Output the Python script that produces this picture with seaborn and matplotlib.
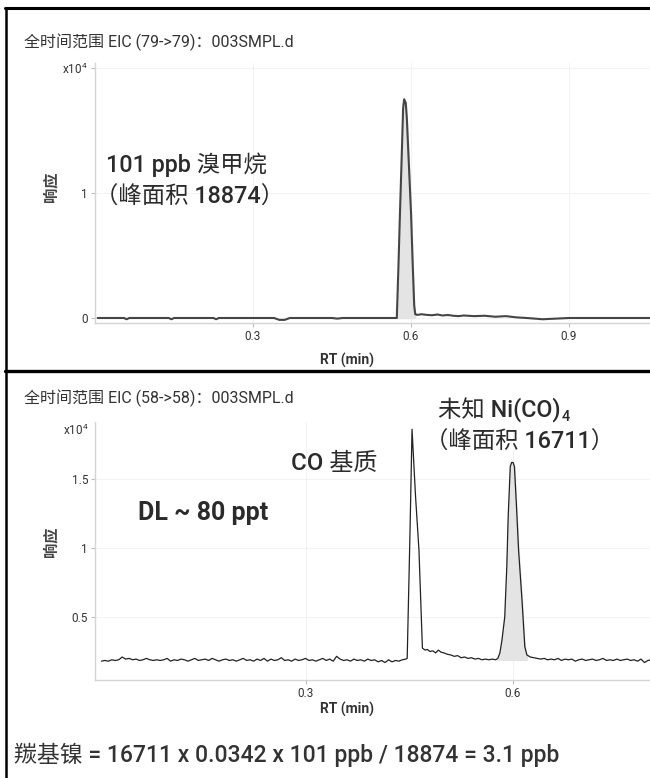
import matplotlib
matplotlib.use('Agg')
import matplotlib.pyplot as plt
from matplotlib.lines import Line2D
import seaborn as sns
import numpy as np
import pandas as pd

# Top trace: EIC 79->79 (bromomethane standard), response in x10^4
rt_top = [0.005, 0.055, 0.06, 0.065, 0.14, 0.145, 0.15, 0.225, 0.23, 0.235,
          0.34, 0.35, 0.36, 0.37, 0.45, 0.46, 0.47, 0.568, 0.573, 0.576,
          0.579, 0.582, 0.585, 0.587, 0.590, 0.592, 0.596, 0.600, 0.603, 0.606,
          0.608, 0.612, 0.62, 0.63, 0.64, 0.65, 0.66, 0.67, 0.68, 0.69,
          0.70, 0.72, 0.74, 0.76, 0.78, 0.80, 0.82, 0.85, 0.90, 0.95, 1.00, 1.055]
resp_top = [0, 0, -0.01, 0, 0, -0.01, 0, 0, -0.01, 0,
            0, -0.015, -0.015, 0, 0, -0.005, 0, 0, 0.0, 0.4,
            0.84, 1.25, 1.68, 1.75, 1.72, 1.6, 1.22, 0.84, 0.45, 0.1,
            0.03, 0.025, 0.03, 0.025, 0.022, 0.028, 0.02, 0.024, 0.018, 0.015,
            0.02, 0.015, 0.018, 0.01, 0.015, 0.005, 0, -0.01, 0, 0, 0, 0]

# Bottom trace: EIC 58->58 (CO matrix + Ni(CO)4)
rt_bot = [0.005, 0.010, 0.015, 0.020, 0.025, 0.030, 0.035, 0.040, 0.045, 0.050,
          0.055, 0.060, 0.065, 0.070, 0.075, 0.080, 0.085, 0.090, 0.095, 0.100,
          0.105, 0.110, 0.115, 0.120, 0.125, 0.130, 0.135, 0.140, 0.145, 0.150,
          0.155, 0.160, 0.165, 0.170, 0.175, 0.180, 0.185, 0.190, 0.195, 0.200,
          0.205, 0.210, 0.215, 0.220, 0.225, 0.230, 0.235, 0.240, 0.245, 0.250,
          0.255, 0.260, 0.265, 0.270, 0.275, 0.280, 0.285, 0.290, 0.295, 0.300,
          0.305, 0.310, 0.315, 0.320, 0.325, 0.330, 0.335, 0.340, 0.345, 0.350,
          0.355, 0.360, 0.365, 0.370, 0.375, 0.380, 0.385, 0.390, 0.395, 0.400,
          0.405, 0.410, 0.415, 0.420, 0.425, 0.430, 0.435, 0.440, 0.445,
          0.447, 0.451, 0.454, 0.459, 0.464, 0.469, 0.473, 0.476, 0.480, 0.484,
          0.488, 0.492, 0.496, 0.500, 0.505, 0.510, 0.515, 0.520, 0.525, 0.530,
          0.535, 0.540, 0.545, 0.550, 0.555, 0.560, 0.565, 0.570, 0.575,
          0.578, 0.581, 0.584, 0.588, 0.591, 0.593, 0.596, 0.598, 0.600, 0.602,
          0.605, 0.608, 0.613, 0.617, 0.620, 0.625,
          0.630, 0.635, 0.640, 0.645, 0.650, 0.655, 0.660, 0.665, 0.670, 0.675,
          0.680, 0.685, 0.690, 0.695, 0.700, 0.705, 0.710, 0.715, 0.720, 0.725,
          0.730, 0.735, 0.740, 0.745, 0.750, 0.755, 0.760, 0.765, 0.770, 0.775,
          0.780, 0.785, 0.790, 0.795, 0.800]
resp_bot = [0.18, 0.185, 0.18, 0.19, 0.185, 0.19, 0.21, 0.195, 0.2, 0.19,
            0.195, 0.185, 0.19, 0.2, 0.19, 0.185, 0.19, 0.185, 0.19, 0.2,
            0.18, 0.19, 0.185, 0.195, 0.19, 0.18, 0.19, 0.2, 0.185, 0.19,
            0.195, 0.185, 0.2, 0.19, 0.18, 0.19, 0.195, 0.185, 0.19, 0.18,
            0.19, 0.2, 0.185, 0.19, 0.18, 0.195, 0.185, 0.2, 0.18, 0.195,
            0.185, 0.19, 0.205, 0.185, 0.19, 0.18, 0.195, 0.185, 0.19, 0.2,
            0.185, 0.19, 0.18, 0.19, 0.2, 0.185, 0.195, 0.18, 0.215, 0.195,
            0.185, 0.19, 0.18, 0.195, 0.185, 0.19, 0.18, 0.195, 0.185, 0.19,
            0.175, 0.185, 0.17, 0.19, 0.175, 0.185, 0.18, 0.19, 0.195,
            0.2, 1.1, 1.86, 1.38, 0.985, 0.275, 0.26, 0.265, 0.25, 0.255,
            0.24, 0.26, 0.245, 0.24, 0.23, 0.225, 0.215, 0.22, 0.205, 0.21,
            0.2, 0.205, 0.195, 0.2, 0.19, 0.195, 0.19, 0.195, 0.19,
            0.2, 0.24, 0.333, 0.5, 0.865, 1.227, 1.59, 1.62, 1.62, 1.59,
            1.3, 0.986, 0.62, 0.285, 0.225, 0.21,
            0.205, 0.2, 0.195, 0.2, 0.19, 0.195, 0.19, 0.2, 0.185, 0.195,
            0.19, 0.195, 0.18, 0.19, 0.195, 0.185, 0.19, 0.195, 0.185, 0.19,
            0.2, 0.185, 0.19, 0.185, 0.195, 0.185, 0.19, 0.195, 0.185, 0.19,
            0.18, 0.195, 0.17, 0.185, 0.19]

top_peak = (0.573, 0.608)
bot_peak = (0.578, 0.620)
bot_base = 0.19

xticks_top = [0.3, 0.6, 0.9]
yticks_top = [0, 1, 2]
ylabels_top = ['0', '1', 'x10$^4$']
xticks_bot = [0.3, 0.6]
yticks_bot = [0.5, 1, 1.5]
ylabels_bot = ['0.5', '1', '1.5']

sns.set_style('white')
plt.rcParams['font.family'] = ['Roboto', 'Noto Sans CJK SC', 'DejaVu Sans']
plt.rcParams['mathtext.fontset'] = 'custom'
plt.rcParams['mathtext.rm'] = 'Roboto'
plt.rcParams['mathtext.it'] = 'Roboto'

W, H = 650, 778
fig = plt.figure(figsize=(W / 100, H / 100), dpi=100)


def fx(px):
    return px / W


def fy(py):
    return 1 - py / H


def style_axes(ax, xticks, yticks, ylabels):
    ax.set_xticks(xticks)
    ax.set_xticklabels([str(t) for t in xticks])
    ax.set_yticks(yticks)
    ax.set_yticklabels(ylabels)
    ax.grid(True, color='#f3f3f3', linewidth=0.8)
    for s in ['top', 'right']:
        ax.spines[s].set_visible(False)
    for s in ['left', 'bottom']:
        ax.spines[s].set_color('#d4d4d4')
        ax.spines[s].set_linewidth(1.0)
    ax.tick_params(axis='both', which='both', length=3, width=0.8, color='#bdbdbd',
                   labelsize=8.5, labelcolor='#333333', pad=2,
                   bottom=True, left=True)


# ---- top panel ----
ax1 = fig.add_axes([fx(95), fy(323), fx(555), (323 - 63) / H])
df_top = pd.DataFrame({'RT': rt_top, 'resp': resp_top})
sns.lineplot(data=df_top, x='RT', y='resp', ax=ax1, color='#454545', linewidth=1.5)
m = (df_top['RT'] >= top_peak[0]) & (df_top['RT'] <= top_peak[1])
ax1.fill_between(df_top['RT'][m], 0, df_top['resp'][m], color='#e4e4e4', zorder=1)
ax1.set_xlim(0, 1.0537)
ax1.set_ylim(-0.04, 2.04)
style_axes(ax1, xticks_top, yticks_top, ylabels_top)
ax1.set_xlabel('RT (min)', fontsize=10, fontweight='bold', color='#333333')
ax1.xaxis.set_label_coords(0.454, -0.115)
ax1.set_ylabel('响应', fontsize=11, fontweight='bold', color='#444444')
ax1.yaxis.set_label_coords(-0.066, 0.523)

# ---- bottom panel ----
ax2 = fig.add_axes([fx(95), fy(680), fx(555), (680 - 422) / H])
df_bot = pd.DataFrame({'RT': rt_bot, 'resp': resp_bot})
sns.lineplot(data=df_bot, x='RT', y='resp', ax=ax2, color='#222222', linewidth=0.9)
m2 = (df_bot['RT'] >= bot_peak[0]) & (df_bot['RT'] <= bot_peak[1])
ax2.fill_between(df_bot['RT'][m2], bot_base, df_bot['resp'][m2], color='#e4e4e4', zorder=1)
ax2.set_xlim(-0.0043, 0.798)
ax2.set_ylim(0.0435, 1.913)
style_axes(ax2, xticks_bot, yticks_bot, ylabels_bot)
ax2.set_xlabel('RT (min)', fontsize=10, fontweight='bold', color='#333333')
ax2.xaxis.set_label_coords(0.454, -0.085)
ax2.set_ylabel('响应', fontsize=11, fontweight='bold', color='#444444')
ax2.yaxis.set_label_coords(-0.066, 0.535)
fig.text(fx(89), fy(430), 'x10$^4$', fontsize=8.5, color='#333333', ha='right', va='center')

# ---- titles and annotations ----
fig.text(fx(24), fy(42), '全时间范围 EIC (79->79)：003SMPL.d', fontsize=11.5, color='#333333', va='center')
fig.text(fx(24), fy(398), '全时间范围 EIC (58->58)：003SMPL.d', fontsize=11.5, color='#333333', va='center')

ann = dict(fontsize=16.8, color='#2b2b2b', va='center', fontweight='medium')
fig.text(fx(106), fy(165), '101 ppb 溴甲烷', **ann)
fig.text(fx(95), fy(197), '（峰面积 18874）', **ann)
fig.text(fx(138), fy(513), 'DL ~ 80 ppt', **dict(ann, fontsize=18, fontweight='bold'))
fig.text(fx(291), fy(463), 'CO 基质', **dict(ann, fontsize=17.3))
ni = fig.text(fx(438), fy(410), '未知 Ni(CO)', **ann)
fig.text(fx(425), fy(442), '（峰面积 16711）', **ann)
fig.text(fx(14), fy(755), '羰基镍 = 16711 x 0.0342 x 101 ppb / 18874 = 3.1 ppb',
         fontsize=16.5, color='#333333', va='center', fontweight='medium')

fig.canvas.draw()
bb = ni.get_window_extent(fig.canvas.get_renderer())
fig.text((bb.x1 + 1) / W, (bb.y0 - 1) / H, '4', fontsize=10.5, color='#2b2b2b',
         va='bottom', fontweight='medium')

# ---- frame lines ----
fig.add_artist(Line2D([fx(5), 1], [fy(8), fy(8)], color='black', linewidth=2.2, transform=fig.transFigure))
fig.add_artist(Line2D([fx(6), fx(6)], [fy(8), 0], color='black', linewidth=1.8, transform=fig.transFigure))
fig.add_artist(Line2D([fx(5), 1], [fy(371), fy(371)], color='black', linewidth=2.4, transform=fig.transFigure))

fig.savefig('out.png', dpi=100)
